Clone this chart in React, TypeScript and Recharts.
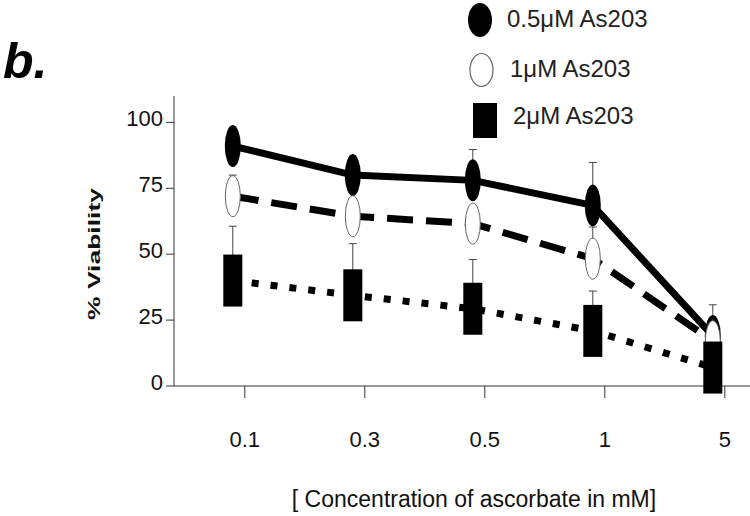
import React from 'react';
import { LineChart, Line, XAxis, YAxis, ErrorBar, Legend } from 'recharts';

// ---- data ----
const categories = ['0.1', '0.3', '0.5', '1', '5'];
const seriesNames = ['0.5\u03bcM As203', '1\u03bcM As203', '2\u03bcM As203'];
const viability05 = [91, 80, 78, 68.5, 19];
const viability05Err = [4, 5, 11.7, 16.3, 11.8];
const viability1 = [72, 64.4, 61.6, 48.3, 17];
const viability1Err = [8, 5, 4, 12, 5];
const viability2 = [40, 34.4, 29.3, 20.9, 7];
const viability2Err = [20.6, 19.6, 18.7, 15.1, 5];
const yTicks = [0, 25, 50, 75, 100];

// ---- styles ----
const FONT = '"Liberation Sans", Arial, Helvetica, sans-serif';
const TICK_SHIFT = 0.1;
const INK = '#111';
const AXIS = '#333';

const data = categories.map((c, i) => ({
  x: i,
  cat: c,
  a: viability05[i],
  aErr: [0, viability05Err[i]],
  b: viability1[i],
  bErr: [0, viability1Err[i]],
  c: viability2[i],
  cErr: [0, viability2Err[i]],
}));

const FilledEllipse = (p: any) =>
  p.cx == null ? null : (
    <ellipse key={`fe${p.index}`} cx={p.cx} cy={p.cy} rx={8} ry={21} fill="#000" />
  );
const OpenEllipse = (p: any) =>
  p.cx == null ? null : (
    <ellipse key={`oe${p.index}`} cx={p.cx} cy={p.cy} rx={7.5} ry={20.5} fill="#fff" stroke="#666" strokeWidth={1} />
  );
const FilledRect = (p: any) =>
  p.cx == null ? null : (
    <rect key={`fr${p.index}`} x={p.cx - 9.5} y={p.cy - 26} width={19} height={52} fill="#000" />
  );

const XTick = (p: any) => {
  const v = p.payload ? p.payload.value : 0;
  const label = categories[Math.round(v - TICK_SHIFT)];
  return (
    <text x={p.x} y={p.y} dy={15.6} textAnchor="middle" fontSize={22} fontFamily={FONT} fill={INK}>
      {label}
    </text>
  );
};

const YTick = (p: any) => {
  const v = p.payload ? p.payload.value : 0;
  return (
    <text x={p.x} y={p.y} dy={4} textAnchor="end" fontSize={22} fontFamily={FONT} fill={INK}>
      {v}
    </text>
  );
};

const XTitle = (props: any) => {
  const vb = props.viewBox || { x: 174, y: 386, width: 576, height: 130 };
  return (
    <text x={vb.x + vb.width / 2 + 12} y={507} textAnchor="middle" fontSize={23} fontFamily={FONT} fill={INK}>
      [ Concentration of ascorbate in mM]
    </text>
  );
};

const YTitle = (props: any) => {
  const vb = props.viewBox || { x: 0, y: 96, width: 174, height: 290 };
  const cy = vb.y + vb.height / 2 + 13;
  return (
    <text
      transform={`translate(100, ${cy}) rotate(-90)`}
      textAnchor="middle"
      fontSize={17}
      fontWeight="bold"
      fontFamily={FONT}
      fill={INK}
      textLength={132}
      lengthAdjust="spacingAndGlyphs"
    >
      % Viability
    </text>
  );
};

const legendRows = [
  { shapeY: 20, textY: 27, textX: 47 },
  { shapeY: 70, textY: 77, textX: 50 },
  { shapeY: 121, textY: 124, textX: 53 },
];

const renderLegend = (props: any) => {
  const payload = props.payload || [];
  return (
    <svg width={230} height={145} style={{ display: 'block' }}>
      {payload.map((entry: any, i: number) => {
        const row = legendRows[i] || legendRows[0];
        let shape = null;
        if (i === 0) shape = <ellipse cx={20} cy={row.shapeY} rx={12} ry={17} fill="#000" />;
        else if (i === 1)
          shape = <ellipse cx={21.5} cy={row.shapeY} rx={11.5} ry={16.5} fill="#fff" stroke="#666" strokeWidth={1.2} />;
        else shape = <rect x={13} y={row.shapeY - 18} width={24} height={35} fill="#000" />;
        return (
          <g key={`lg${i}`}>
            {shape}
            <text x={row.textX} y={row.textY} fontSize={24} fontFamily={FONT} fill="#222">
              {entry.value}
            </text>
          </g>
        );
      })}
    </svg>
  );
};

export default function App() {
  return (
    <div style={{ position: 'absolute', left: 0, top: 0, width: 750, height: 516, background: '#fff' }}>
      <svg style={{ position: 'absolute', left: 0, top: 0 }} width={120} height={100}>
        <text x={3} y={78} fontSize={50} fontWeight="bold" fontStyle="italic" fontFamily={FONT} fill="#000">
          b.
        </text>
      </svg>
      <LineChart width={750} height={516} data={data} margin={{ top: 96, right: 0, bottom: 0, left: 0 }}>
        <XAxis
          dataKey="x"
          type="number"
          domain={[-0.49, 4.31]}
          ticks={categories.map((_, i) => i + TICK_SHIFT)}
          interval={0}
          tickSize={12}
          tickMargin={33}
          height={130}
          stroke={AXIS}
          tick={<XTick />}
          label={(p: any) => <XTitle {...p} />}
        />
        <YAxis
          type="number"
          domain={[0, 110]}
          ticks={yTicks}
          interval={0}
          width={174}
          tickSize={8}
          tickMargin={3}
          stroke={AXIS}
          tick={<YTick />}
          label={(p: any) => <YTitle {...p} />}
        />
        <Legend
          content={renderLegend}
          layout="horizontal"
          verticalAlign="middle"
          align="center"
          wrapperStyle={{ position: 'absolute', left: 460, top: 0, width: 230, height: 145 }}
        />
        <Line
          name={seriesNames[0]}
          dataKey="a"
          type="linear"
          stroke="#000"
          strokeWidth={7}
          dot={FilledEllipse}
          activeDot={false}
          isAnimationActive={false}
        >
          <ErrorBar dataKey="aErr" direction="y" width={4} stroke="#444" strokeWidth={1} />
        </Line>
        <Line
          name={seriesNames[1]}
          dataKey="b"
          type="linear"
          stroke="#000"
          strokeWidth={7}
          strokeDasharray="26 13"
          dot={OpenEllipse}
          activeDot={false}
          isAnimationActive={false}
        >
          <ErrorBar dataKey="bErr" direction="y" width={4} stroke="#444" strokeWidth={1} />
        </Line>
        <Line
          name={seriesNames[2]}
          dataKey="c"
          type="linear"
          stroke="#000"
          strokeWidth={7}
          strokeDasharray="7 12"
          dot={FilledRect}
          activeDot={false}
          isAnimationActive={false}
        >
          <ErrorBar dataKey="cErr" direction="y" width={4} stroke="#444" strokeWidth={1} />
        </Line>
      </LineChart>
    </div>
  );
}
